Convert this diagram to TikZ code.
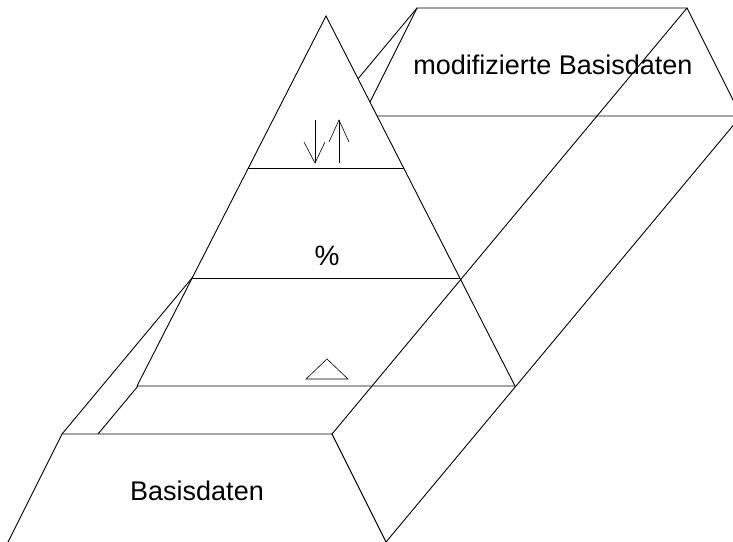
\documentclass[tikz,border=0pt]{standalone}
\usepackage{fontspec}
\setmainfont{Liberation Sans}
\usetikzlibrary{calc}
\begin{document}
\begin{tikzpicture}[x=1pt,y=-1pt,
  edge/.style={draw=black,line width=0.9pt,line join=miter},
  symline/.style={draw=black,line width=0.6pt},
  lbl/.style={font=\fontsize{27}{32}\selectfont,anchor=base,inner sep=0pt}]
\useasboundingbox (0,0) rectangle (733,541);
\clip (0,0) rectangle (733,541);
% bottom (front) box
\coordinate (BTL) at (62,434);
\coordinate (BTR) at (332,434);
\coordinate (BBL) at (8,542);
\coordinate (BBR) at (386,542);
% top (back) box
\coordinate (TTL) at (417,8);
\coordinate (TTR) at (687,8);
\coordinate (TBL) at (363,116);
\coordinate (TBR) at (741,116);
% pyramid
\coordinate (A) at (326,16);
\coordinate (PL) at (137,386);
\coordinate (PR) at (515,386);
\coordinate (L1a) at ($(A)!0.4108!(PL)$);
\coordinate (L1b) at ($(A)!0.4108!(PR)$);
\coordinate (L2a) at ($(A)!0.7081!(PL)$);
\coordinate (L2b) at ($(A)!0.7081!(PR)$);

% slab edges
\draw[edge] (BTL) -- (TTL);
\draw[edge] (BBL) -- (TBL);
\draw[edge] (BBR) -- (TBR);
% top box
\draw[edge] (TBL) -- (TTL) -- (TTR) -- (TBR) -- cycle;
% bottom box (opaque)
\fill[white] (BBL) -- (BTL) -- (BTR) -- (BBR) -- cycle;
\draw[edge] (BBL) -- (BTL) -- (BTR) -- (BBR);
% pyramid (opaque)
\fill[white] (A) -- (PL) -- (PR) -- cycle;
\draw[edge] (A) -- (PL) -- (PR) -- cycle;
\draw[edge] (L1a) -- (L1b);
\draw[edge] (L2a) -- (L2b);
% visible slab edge through the pyramid
\draw[edge] (BTR) -- (TTR);

% symbols
\draw[symline] (315,120) -- (315,163);
\draw[symline] (304,142) -- (315,163) -- (325,142);
\draw[symline] (339,163) -- (339,120);
\draw[symline] (329,142) -- (339,120) -- (349,142);
\draw[symline] (306,379) -- (348,379) -- (327,359) -- cycle;

% labels
\node[lbl] (mod) at (553,74) {modifizierte Basisdaten};
\node[lbl] (bas) at (197,500) {Basisdaten};
\node[lbl,font=\fontsize{28}{32}\selectfont] (pct) at (327,265) {\%};
\end{tikzpicture}
\end{document}
